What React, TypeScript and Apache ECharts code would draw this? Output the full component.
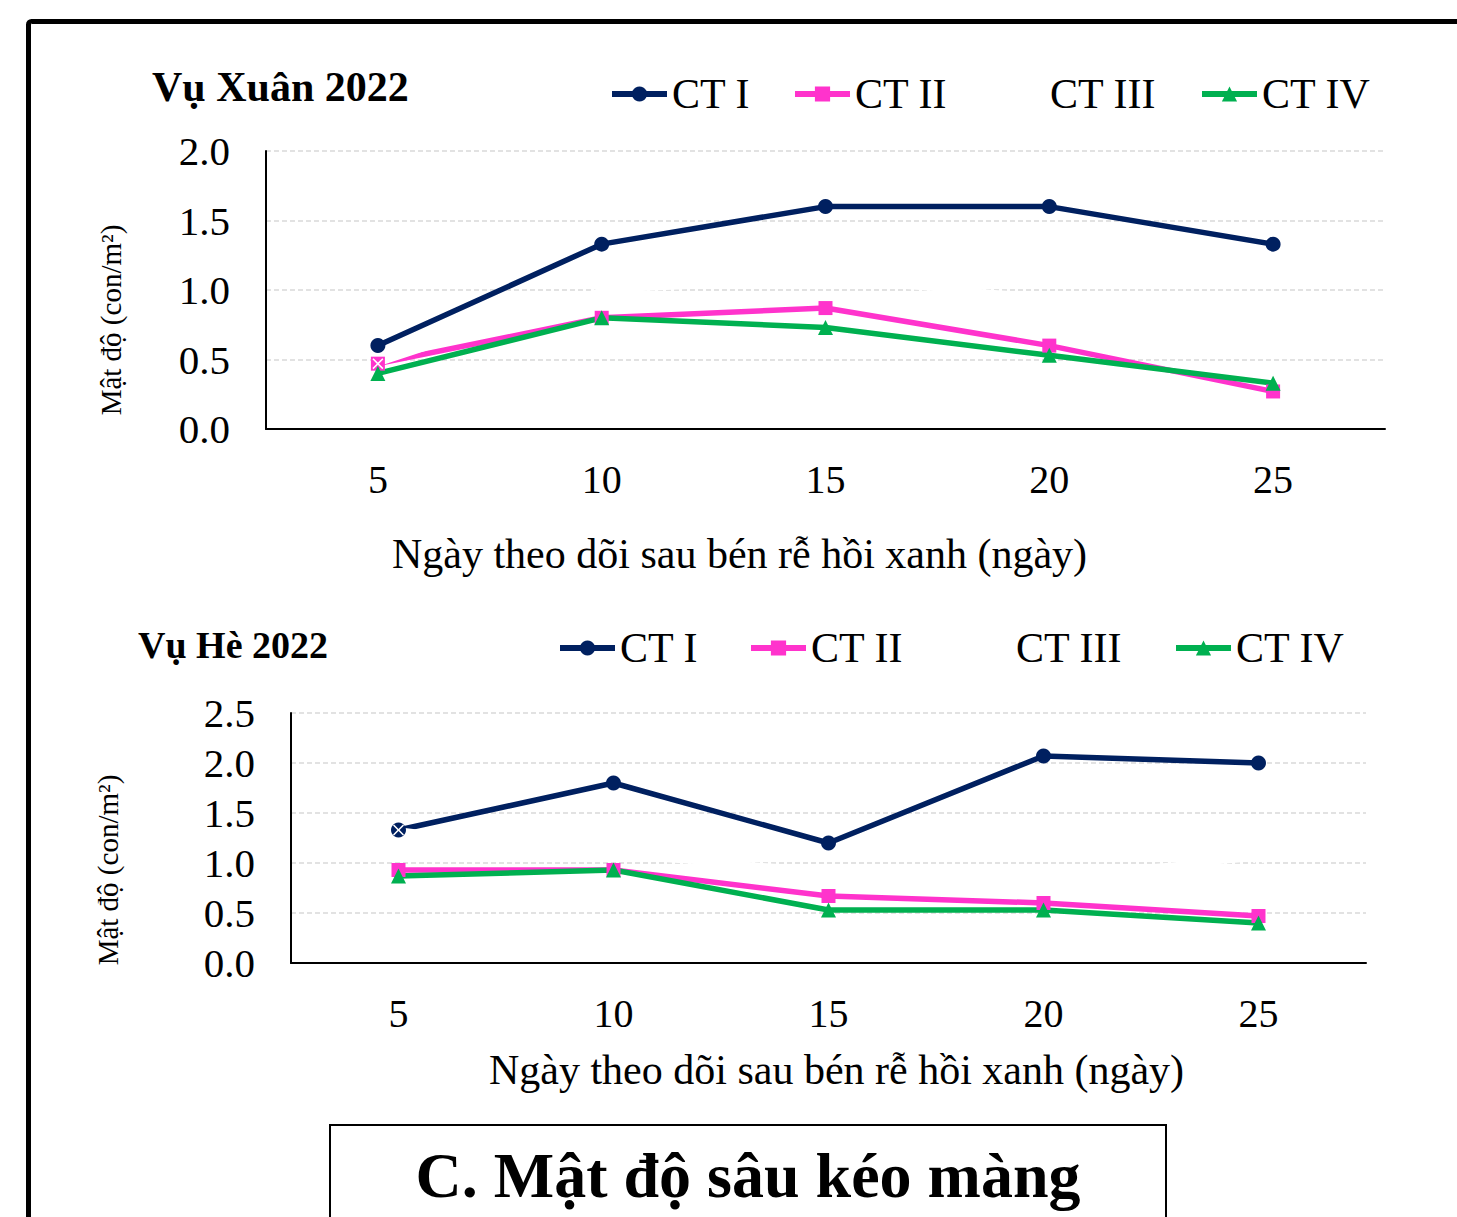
import { useEffect, useRef } from "react";
import * as echarts from "echarts";

const days = ["5", "10", "15", "20", "25"];
const seriesNames = ["CT I", "CT II", "CT III", "CT IV"];
const seriesColors = ["#002060", "#FF33CC", "#FFFFFF", "#00B050"];
const seriesSymbols = [
  "circle",
  "rect",
  "path://M0,1 L1,0 L5,4 L9,0 L10,1 L6,5 L10,9 L9,10 L5,6 L1,10 L0,9 L4,5 Z",
  "triangle",
];

const xuanCT1 = [0.6, 1.33, 1.6, 1.6, 1.33];
const xuanCT2 = [0.47, 0.8, 0.87, 0.6, 0.27];
const xuanCT3 = [0.47, 1.0, 1.07, 0.95, 0.8];
const xuanCT4 = [0.4, 0.8, 0.73, 0.53, 0.33];

const heCT1 = [1.33, 1.8, 1.2, 2.07, 2.0];
const heCT2 = [0.93, 0.93, 0.67, 0.6, 0.47];
const heCT3 = [1.33, 1.07, 0.93, 0.87, 1.05];
const heCT4 = [0.87, 0.93, 0.53, 0.53, 0.4];

const xuanYMax = 2.0;
const heYMax = 2.5;
const yStep = 0.5;

const titleXuan = "Vụ Xuân 2022";
const titleHe = "Vụ Hè 2022";
const xName = "Ngày theo dõi sau bén rễ hồi xanh (ngày)";
const yName = "Mật độ (con/m²)";
const panelTitle = "C. Mật độ sâu kéo màng";

const FONT = "'Liberation Serif', 'Times New Roman', serif";

export default function App() {
  const ref = useRef<HTMLDivElement>(null);
  useEffect(() => {
    if (!ref.current) return;
    const chart = echarts.init(ref.current, undefined, { renderer: "svg" });

    const xuanData = [xuanCT1, xuanCT2, xuanCT3, xuanCT4];
    const heData = [heCT1, heCT2, heCT3, heCT4];

    const mkSeries = (data: number[][], idx: number) =>
      data.map((vals, i) => ({
        name: seriesNames[i],
        type: "line",
        xAxisIndex: idx,
        yAxisIndex: idx,
        data: vals,
        symbol: seriesSymbols[i],
        symbolSize: i === 2 ? 11 : i === 1 ? 14 : 15,
        lineStyle: { color: seriesColors[i], width: 5.5 },
        itemStyle: { color: seriesColors[i] },
        emphasis: { disabled: true },
      }));

    const mkX = (idx: number, gap: number, pad: number[]) => ({
      type: "category",
      gridIndex: idx,
      data: days,
      boundaryGap: true,
      axisTick: { show: false },
      axisLine: { lineStyle: { color: "#000", width: 2 } },
      axisLabel: { color: "#000", fontSize: 40, fontFamily: FONT, margin: 30 },
      name: xName,
      nameLocation: "middle",
      nameGap: gap,
      nameTextStyle: { color: "#000", fontSize: 42, fontFamily: FONT, padding: pad },
    });

    const mkY = (idx: number, max: number, gap: number, pad: number[]) => ({
      type: "value",
      gridIndex: idx,
      min: 0,
      max,
      interval: yStep,
      axisLine: { show: true, lineStyle: { color: "#000", width: 2 } },
      axisTick: { show: false },
      splitLine: { lineStyle: { color: "#d9d9d9", width: 1.5, type: [5, 3] } },
      axisLabel: {
        color: "#000",
        fontSize: 41,
        fontFamily: FONT,
        margin: 36,
        formatter: (v: number) => v.toFixed(1),
      },
      name: yName,
      nameLocation: "middle",
      nameGap: gap,
      nameRotate: 90,
      nameTextStyle: { color: "#000", fontSize: 29, fontFamily: FONT, padding: pad },
    });

    const mkLegend = (name: string, left: number, top: number) => ({
      left,
      top,
      padding: 0,
      orient: "horizontal",
      itemWidth: 55,
      itemHeight: 19,
      selectedMode: false,
      data: [name],
      lineStyle: { width: 6 },
      textStyle: { color: "#000", fontSize: 42, fontFamily: FONT, lineHeight: 46 },
    });

    const legendLeftXuan = [609, 792, 987, 1199];
    const legendLeftHe = [557, 748, 953, 1173];

    chart.setOption({
      animation: false,
      backgroundColor: "#fff",
      grid: [
        { left: 266, top: 151, width: 1119, height: 278 },
        { left: 291, top: 713, width: 1075, height: 250 },
      ],
      xAxis: [mkX(0, 104, [0, 172, 0, 0]), mkX(1, 86, [0, 0, 0, 16])],
      yAxis: [mkY(0, xuanYMax, 141, [0, 60, 0, 0]), mkY(1, heYMax, 169, [0, 64, 0, 0])],
      legend: [
        ...seriesNames.map((n, i) => mkLegend(n, legendLeftXuan[i], 71)),
        ...seriesNames.map((n, i) => mkLegend(n, legendLeftHe[i], 625)),
      ],
      series: [...mkSeries(xuanData, 0), ...mkSeries(heData, 1)],
      graphic: [
        {
          type: "rect",
          shape: { x: 28.5, y: 21.5, width: 1600, height: 1400, r: 3 },
          style: { fill: "none", stroke: "#000", lineWidth: 5 },
          silent: true,
        },
        {
          type: "text",
          x: 152,
          y: 87,
          style: {
            text: titleXuan,
            font: `bold 42px ${FONT}`,
            fill: "#000",
            textAlign: "left",
            textVerticalAlign: "middle",
          },
        },
        {
          type: "text",
          x: 138,
          y: 645,
          style: {
            text: titleHe,
            font: `bold 38px ${FONT}`,
            fill: "#000",
            textAlign: "left",
            textVerticalAlign: "middle",
          },
        },
        {
          type: "rect",
          shape: { x: 330, y: 1125, width: 836, height: 200 },
          style: { fill: "#fff", stroke: "#000", lineWidth: 2 },
          silent: true,
        },
        {
          type: "text",
          x: 748,
          y: 1175,
          style: {
            text: panelTitle,
            font: `bold 64px ${FONT}`,
            fill: "#000",
            textAlign: "center",
            textVerticalAlign: "middle",
          },
        },
      ],
    });
    return () => chart.dispose();
  }, []);
  return (
    <div
      ref={ref}
      style={{ position: "absolute", left: 0, top: 0, width: 1457, height: 1217 }}
    />
  );
}
